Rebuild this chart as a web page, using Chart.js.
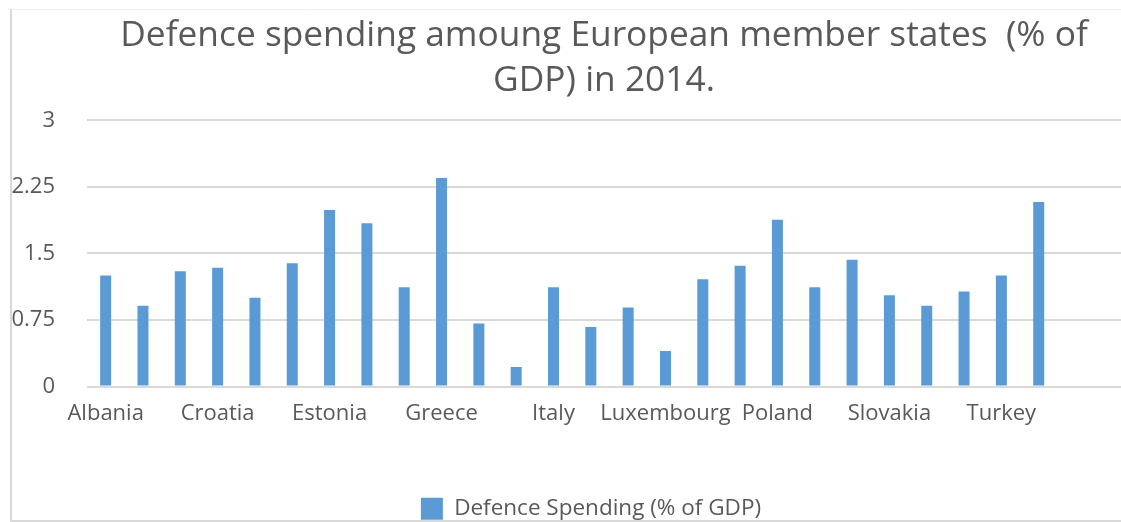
<!DOCTYPE html>
<html><head><meta charset="utf-8">
<script src="https://cdn.jsdelivr.net/npm/chart.js@4.4.1/dist/chart.umd.min.js"></script>
<style>
html,body{margin:0;padding:0;background:#fff;overflow:hidden;width:1121px;height:522px;}
#wrap{position:absolute;left:0;top:0;width:1208px;height:530px;}
</style></head><body>
<div id="wrap"><canvas id="c" width="1208" height="530"></canvas></div>
<script>
const countries = ["Albania","Belgium","Bulgaria","Croatia","Czech Republic","Denmark","Estonia","France","Germany","Greece","Hungary","Iceland","Italy","Latvia","Lithuania","Luxembourg","Netherlands","Norway","Poland","Portugal","Romania","Slovakia","Slovenia","Spain","Turkey","United Kingdom","",""];
const spending = [1.25,0.91,1.30,1.34,1.00,1.39,1.99,1.84,1.12,2.35,0.71,0.22,1.12,0.67,0.89,0.40,1.21,1.36,1.88,1.12,1.43,1.03,0.91,1.07,1.25,2.08,null,null];
const yTicks = [0,0.75,1.5,2.25,3];
const seriesName = "Defence Spending (% of GDP)";
const titleLines = ["Defence spending amoung European member states  (% of","GDP) in 2014."];

const FONT = "'Open Sans', sans-serif";
const TXT = "#595959";
const GRID = "#d9d9d9";

const framePlugin = {
  id: 'frame',
  afterLayout(chart){
    // Excel-style legend sits a little left of the title's centre
    if (chart.legend) { chart.legend.left -= 13; chart.legend.right -= 13; }
  },
  beforeDraw(chart){
    const c = chart.ctx;
    c.save();
    c.fillStyle = '#ffffff';
    c.fillRect(0,0,chart.width,chart.height);
    c.restore();
  },
  afterDraw(chart){
    const c = chart.ctx;
    c.save();
    c.strokeStyle = '#f0f0f0'; c.lineWidth = 1;
    c.beginPath(); c.moveTo(10, 9.5); c.lineTo(chart.width, 9.5); c.stroke();
    c.strokeStyle = GRID; c.lineWidth = 2;
    c.beginPath(); c.moveTo(11, 9); c.lineTo(11, 522); c.stroke();
    c.beginPath(); c.moveTo(10, 521); c.lineTo(chart.width, 521); c.stroke();
    c.restore();
  }
};

new Chart(document.getElementById('c'), {
  type: 'bar',
  data: {
    labels: countries,
    datasets: [{
      label: seriesName,
      data: spending,
      backgroundColor: '#5b9bd5',
      borderWidth: 0,
      categoryPercentage: 1,
      barPercentage: 0.295
    }]
  },
  options: {
    responsive: false,
    devicePixelRatio: 1,
    animation: false,
    layout: { padding: 0 },
    plugins: {
      title: {
        display: true,
        text: titleLines,
        color: TXT,
        font: { family: FONT, size: 35.3, weight: 'normal', lineHeight: 1.28 },
        padding: { top: 13, bottom: 17 }
      },
      legend: {
        display: true,
        position: 'bottom',
        labels: {
          color: TXT,
          font: { family: FONT, size: 22.5 },
          boxWidth: 22,
          boxHeight: 22,
          padding: 14
        }
      },
      tooltip: { enabled: false }
    },
    scales: {
      x: {
        grid: { display: false, drawTicks: false },
        border: { display: false },
        ticks: {
          color: TXT,
          font: { family: FONT, size: 22 },
          autoSkip: false,
          maxRotation: 0,
          minRotation: 0,
          padding: 14,
          callback: function(v, i){ return i % 3 === 0 ? countries[i] : ''; }
        },
        afterFit(scale){ scale.height = 97; }
      },
      y: {
        min: 0, max: 3,
        afterBuildTicks(scale){ scale.ticks = yTicks.map(v => ({value: v})); },
        grid: { color: GRID, lineWidth: 2, drawTicks: false },
        border: { display: false },
        ticks: {
          color: TXT,
          font: { family: FONT, size: 22 },
          padding: 32,
          callback: function(v){ return String(v); }
        },
        afterFit(scale){ scale.width = 87; }
      },
      yRight: {
        position: 'right',
        display: true,
        min: 0, max: 3,
        grid: { display: false, drawTicks: false },
        border: { display: false },
        ticks: { display: false },
        afterFit(scale){ scale.width = 76; }
      }
    }
  },
  plugins: [framePlugin]
});
</script>
</body></html>
